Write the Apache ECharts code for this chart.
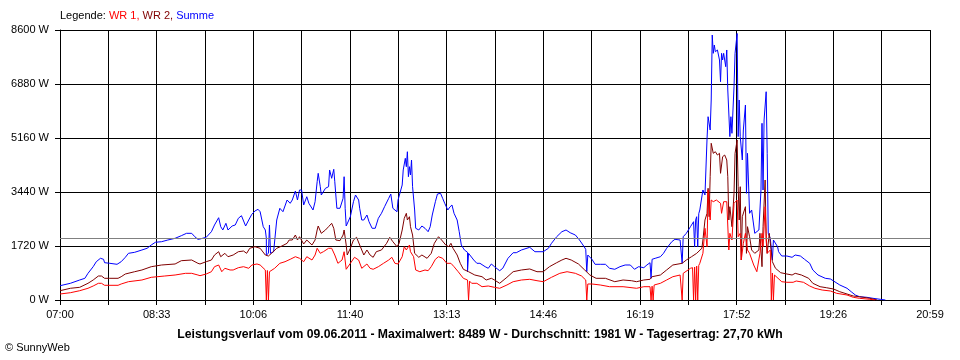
<!DOCTYPE html>
<html>
<head>
<meta charset="utf-8">
<script src="https://cdn.jsdelivr.net/npm/echarts@6/dist/echarts.min.js"></script>
<style>html,body{margin:0;padding:0;background:#fff}#c{width:960px;height:360px}</style>
</head>
<body>
<div id="c"></div>
<script>
// ---- data (time, watts) ----
const xTickLabels = ['07:00','08:33','10:06','11:40','13:13','14:46','16:19','17:52','19:26','20:59'];
const axisStart = '07:00';
const axisEnd = '20:59';
const yMax = 8600;
const yStep = 1720;
const averageW = 1981;
const captionText = 'Leistungsverlauf vom 09.06.2011 - Maximalwert: 8489 W - Durchschnitt: 1981 W - Tagesertrag: 27,70 kWh';

const summe = [['07:00',455],['07:10',532],['07:19',637],['07:24',691],['07:27',850],['07:32',1061],['07:35',1220],['07:39',1328],['07:42',1296],['07:43',1188],['07:48',1169],['07:55',1137],['07:59',1220],['08:03',1360],['08:06',1487],['08:12',1519],['08:19',1593],['08:24',1647],['08:28',1752],['08:32',1838],['08:38',1857],['08:44',1911],['08:51',1965],['08:57',2048],['09:02',2124],['09:07',2124],['09:10',2016],['09:13',1933],['09:15',1943],['09:21',1997],['09:26',2175],['09:29',2389],['09:33',2621],['09:35',2335],['09:37',2230],['09:40',2443],['09:42',2230],['09:46',2357],['09:49',2389],['09:52',2602],['09:55',2685],['09:59',2357],['10:02',2548],['10:05',2730],['10:08',2835],['10:11',2889],['10:13',2812],['10:16',2335],['10:18',2230],['10:19',1965],['10:19',1433],['10:21',1487],['10:22',2389],['10:23',1487],['10:26',1538],['10:29',2548],['10:32',2921],['10:35',2812],['10:39',3185],['10:42',3080],['10:44',3185],['10:47',3472],['10:49',3185],['10:51',3504],['10:53',3504],['10:55',3026],['10:58',3290],['11:00',3080],['11:04',2867],['11:06',3131],['11:08',3768],['11:09',4035],['11:11',3609],['11:12',3344],['11:16',3558],['11:19',3609],['11:20',4141],['11:22',3876],['11:24',4163],['11:25',3768],['11:27',2921],['11:30',2921],['11:33',3239],['11:34',3927],['11:35',2921],['11:36',2357],['11:40',2653],['11:43',3131],['11:45',3344],['11:48',3185],['11:49',2921],['11:51',2548],['11:53',2548],['11:56',2707],['11:58',2494],['12:01',2284],['12:04',2284],['12:07',2602],['12:10',2761],['12:13',2972],['12:17',3239],['12:19',3376],['12:21',2921],['12:25',2812],['12:26',3185],['12:30',3663],['12:31',4141],['12:33',4513],['12:34',4246],['12:35',4723],['12:36',3927],['12:37',4246],['12:38',3981],['12:39',4459],['12:40',3609],['12:42',2867],['12:43',2284],['12:46',2230],['12:49',2357],['12:52',2284],['12:55',2175],['12:57',2335],['12:59',2707],['13:02',3131],['13:04',3376],['13:07',3398],['13:09',3239],['13:11',3080],['13:14',2867],['13:16',2962],['13:18',3026],['13:20',2761],['13:23',2548],['13:25',2175],['13:27',1752],['13:30',1593],['13:33',1519],['13:33',901],['13:34',1487],['13:39',1274],['13:42',1169],['13:45',1169],['13:50',1061],['13:53',1010],['13:56',1147],['13:59',1061],['14:04',933],['14:07',1010],['14:12',1328],['14:17',1506],['14:20',1506],['14:25',1593],['14:33',1678],['14:38',1538],['14:46',1538],['14:51',1647],['14:54',1806],['14:59',2016],['15:04',2175],['15:08',2230],['15:12',2143],['15:17',2070],['15:21',1911],['15:25',1720],['15:27',1615],['15:28',901],['15:29',1433],['15:33',1296],['15:36',1137],['15:41',1137],['15:46',1137],['15:50',1010],['15:55',978],['16:00',1061],['16:05',1115],['16:10',1115],['16:14',978],['16:18',1061],['16:23',1029],['16:26',1115],['16:29',1188],['16:30',691],['16:31',1296],['16:34',1328],['16:39',1379],['16:42',1487],['16:45',1647],['16:50',1857],['16:53',1933],['16:58',1911],['17:00',1169],['17:01',2016],['17:04',2124],['17:08',2335],['17:11',2494],['17:12',1698],['17:13',2550],['17:14',2653],['17:15',1698],['17:16',2750],['17:17',2867],['17:20',3504],['17:22',3344],['17:24',5150],['17:25',5838],['17:27',5415],['17:28',6370],['17:29',8440],['17:30',7857],['17:31',8122],['17:32',7908],['17:34',7963],['17:36',7644],['17:37',6953],['17:38',7857],['17:39',7644],['17:40',7857],['17:42',7431],['17:43',7963],['17:44',6689],['17:46',5204],['17:47',5838],['17:48',5309],['17:50',6794],['17:51',7857],['17:53',8489],['17:54',5204],['17:55',6370],['17:56',5204],['17:58',4459],['17:59',5415],['18:01',6211],['18:02',3398],['18:03',4672],['18:05',2761],['18:07',2867],['18:10',2124],['18:14',2230],['18:16',3504],['18:17',5628],['18:18',3504],['18:19',5733],['18:21',6634],['18:22',4672],['18:23',2124],['18:25',1965],['18:27',1274],['18:28',1911],['18:32',1698],['18:33',1538],['18:36',1401],['18:41',1401],['18:46',1360],['18:49',1433],['18:54',1401],['18:58',1296],['19:03',1169],['19:06',956],['19:11',796],['19:18',691],['19:23',669],['19:26',605],['19:32',478],['19:39',373],['19:43',264],['19:47',159],['19:51',105],['19:58',86],['20:04',54],['20:11',22],['20:16',0]];

const wr2 = [['07:00',296],['07:10',373],['07:19',404],['07:27',532],['07:32',637],['07:37',764],['07:40',764],['07:43',691],['07:48',691],['07:56',691],['07:59',742],['08:03',828],['08:12',901],['08:19',956],['08:28',1061],['08:38',1115],['08:51',1147],['08:57',1252],['09:07',1274],['09:13',1169],['09:15',1147],['09:21',1220],['09:26',1274],['09:29',1433],['09:33',1538],['09:35',1379],['09:39',1487],['09:42',1379],['09:47',1433],['09:52',1538],['09:57',1560],['10:00',1487],['10:03',1647],['10:08',1698],['10:13',1647],['10:18',1433],['10:21',1401],['10:24',1487],['10:29',1647],['10:34',1720],['10:39',1806],['10:41',1911],['10:44',1911],['10:47',2070],['10:49',1911],['10:51',2016],['10:55',1784],['10:58',1911],['11:03',1752],['11:06',1911],['11:08',2230],['11:09',2357],['11:12',2124],['11:16',2230],['11:19',2335],['11:22',2443],['11:24',2284],['11:26',1911],['11:30',1890],['11:33',2070],['11:34',2230],['11:36',1752],['11:37',1433],['11:40',1647],['11:43',1911],['11:46',1997],['11:49',1752],['11:53',1433],['11:56',1593],['11:59',1433],['12:02',1360],['12:05',1538],['12:10',1593],['12:15',1806],['12:18',1997],['12:21',1857],['12:25',1698],['12:27',1806],['12:30',2230],['12:32',2602],['12:34',2761],['12:35',2548],['12:37',2653],['12:38',2335],['12:40',2070],['12:42',1487],['12:46',1360],['12:49',1433],['12:54',1328],['12:58',1487],['13:01',1806],['13:05',2016],['13:08',1911],['13:12',1752],['13:15',1698],['13:17',1806],['13:19',1647],['13:23',1433],['13:26',1169],['13:29',978],['13:34',901],['13:40',796],['13:47',742],['13:51',637],['13:56',691],['13:59',637],['14:04',532],['14:11',723],['14:17',901],['14:25',956],['14:33',988],['14:40',901],['14:46',901],['14:52',1061],['14:59',1188],['15:04',1274],['15:08',1328],['15:13',1274],['15:20',1147],['15:26',956],['15:31',796],['15:37',691],['15:46',691],['15:55',583],['16:03',637],['16:11',615],['16:16',583],['16:23',637],['16:29',659],['16:31',742],['16:39',796],['16:45',956],['16:51',1115],['17:00',1169],['17:04',1274],['17:09',1379],['17:14',1487],['17:19',1647],['17:20',1911],['17:22',2548],['17:24',2761],['17:25',3558],['17:26',2653],['17:27',3927],['17:28',4991],['17:30',4672],['17:32',4723],['17:34',4618],['17:36',4672],['17:37',4035],['17:39',4564],['17:41',4618],['17:43',4459],['17:44',3927],['17:45',2548],['17:46',2972],['17:48',2335],['17:50',3398],['17:51',4672],['17:53',5096],['17:54',3609],['17:55',2548],['17:56',3609],['17:57',1274],['17:58',2653],['18:01',2972],['18:02',1487],['18:03',2335],['18:05',2016],['18:07',1593],['18:10',1487],['18:14',1593],['18:15',2124],['18:17',1061],['18:18',2335],['18:20',3822],['18:21',1911],['18:22',1487],['18:24',2124],['18:27',1220],['18:30',1010],['18:35',869],['18:41',828],['18:46',796],['18:49',850],['18:55',796],['19:02',691],['19:06',532],['19:13',424],['19:19',392],['19:26',350],['19:32',264],['19:39',191],['19:45',127],['19:51',105],['20:01',54],['20:08',0]];

const wr1 = [['07:00',191],['07:10',232],['07:19',296],['07:27',373],['07:32',446],['07:37',532],['07:40',532],['07:43',468],['07:56',468],['07:59',510],['08:06',583],['08:19',637],['08:28',723],['08:41',764],['08:51',796],['09:01',850],['09:07',850],['09:13',796],['09:15',774],['09:21',828],['09:26',901],['09:29',1061],['09:33',1115],['09:36',901],['09:39',1010],['09:44',956],['09:47',956],['09:52',1029],['09:57',1061],['10:02',1010],['10:05',1115],['10:10',1147],['10:13',1115],['10:18',956],['10:19',0],['10:20',940],['10:21',0],['10:22',901],['10:27',1010],['10:32',1169],['10:37',1220],['10:42',1296],['10:47',1379],['10:51',1328],['10:55',1220],['10:58',1379],['11:03',1274],['11:06',1433],['11:08',1647],['11:11',1487],['11:14',1538],['11:19',1647],['11:22',1647],['11:25',1433],['11:28',1169],['11:32',1274],['11:34',1538],['11:36',978],['11:40',1169],['11:44',1360],['11:48',1274],['11:51',1010],['11:56',1147],['11:59',1010],['12:02',978],['12:07',1061],['12:12',1169],['12:17',1274],['12:20',1360],['12:23',1169],['12:26',1147],['12:30',1379],['12:32',1698],['12:34',1593],['12:37',1752],['12:38',1538],['12:41',1379],['12:43',956],['12:47',901],['12:52',956],['12:55',933],['12:58',1061],['13:02',1296],['13:05',1379],['13:09',1328],['13:13',1169],['13:17',1169],['13:20',1061],['13:24',901],['13:29',691],['13:33',637],['13:34',0],['13:35',600],['13:37',532],['13:42',532],['13:47',424],['13:53',446],['13:59',404],['14:04',373],['14:11',478],['14:17',583],['14:25',637],['14:33',659],['14:40',615],['14:46',583],['14:54',723],['15:02',850],['15:09',901],['15:17',850],['15:23',764],['15:27',637],['15:28',0],['15:29',510],['15:33',510],['15:41',478],['15:50',424],['16:03',424],['16:16',373],['16:23',424],['16:29',424],['16:30',0],['16:31',440],['16:32',0],['16:33',478],['16:39',532],['16:45',637],['16:51',742],['16:58',796],['17:00',0],['17:01',850],['17:08',1010],['17:10',1030],['17:11',0],['17:12',1050],['17:13',0],['17:14',1080],['17:15',0],['17:16',1100],['17:17',1169],['17:20',1487],['17:22',2284],['17:24',1698],['17:25',3504],['17:27',2548],['17:28',3185],['17:30',3131],['17:33',3185],['17:37',3080],['17:38',2761],['17:40',3131],['17:43',3131],['17:45',1593],['17:46',2124],['17:48',1911],['17:50',3080],['17:53',3185],['17:54',2016],['17:56',2124],['17:57',1274],['17:59',1806],['18:01',2124],['18:03',1593],['18:05',1487],['18:09',1115],['18:12',901],['18:15',1487],['18:17',2124],['18:18',1698],['18:20',2972],['18:21',2124],['18:22',1487],['18:25',1593],['18:26',0],['18:27',860],['18:28',0],['18:29',796],['18:36',583],['18:41',564],['18:47',564],['18:50',605],['18:57',564],['19:03',446],['19:08',373],['19:15',318],['19:23',287],['19:29',213],['19:39',159],['19:45',86],['19:51',54],['20:01',22],['20:06',0]];

// ---- build ----
function toMin(t){ const p=t.split(':'); return (+p[0])*60 + (+p[1]); }
const t0 = toMin(axisStart), span = toMin(axisEnd) - t0;
const halfSteps = (xTickLabels.length - 1) * 2; // grid lines every half label step
// axis unit: one grid step (span / halfSteps minutes)
function conv(arr){ return arr.map(d => [ (toMin(d[0]) - t0) * halfSteps / span, d[1] ]); }

const FONT = "'Liberation Sans', Arial, sans-serif";
const rs = c => ({ color: c, fontSize: 11, fontWeight: 'normal', fontFamily: FONT });
const chart = echarts.init(document.getElementById('c'), null, {renderer:'canvas'});
chart.setOption({
  animation: false,
  backgroundColor: '#ffffff',
  textStyle: { fontFamily: FONT },
  title: [
    { text: '{k|Legende: }{a|WR 1, }{b|WR 2, }{c|Summe}', left: 60, top: 10, padding: 0,
      textStyle: { fontWeight: 'normal', fontSize: 11, rich: { k: rs('#000000'), a: rs('#ff0000'), b: rs('#800000'), c: rs('#0000ff') } } },
    { text: captionText, left: 'center', top: 329, padding: 0,
      textStyle: { color: '#000', fontSize: 12.2, fontWeight: 'bold', fontFamily: FONT } },
    { text: '© SunnyWeb', left: 5, top: 342, padding: 0,
      textStyle: { color: '#000', fontSize: 11, fontWeight: 'normal', fontFamily: FONT } }
  ],
  grid: { left: 60, right: 30, top: 30, bottom: 60, containLabel: false },
  xAxis: {
    type: 'value', min: 0, max: halfSteps, interval: 1,
    axisLine: { show: true, lineStyle: { color: '#000', width: 1 } },
    axisTick: { show: true, length: 5, lineStyle: { color: '#000' } },
    splitLine: { show: true, lineStyle: { color: '#000', width: 1 } },
    axisLabel: { color: '#000', fontSize: 11, fontFamily: FONT, margin: 9,
      formatter: v => { const i = Math.round(v); return i % 2 === 0 ? xTickLabels[i/2] : ''; } }
  },
  yAxis: {
    type: 'value', min: 0, max: yMax, interval: yStep,
    axisLine: { show: true, lineStyle: { color: '#000', width: 1 } },
    axisTick: { show: true, length: 5, lineStyle: { color: '#000' } },
    splitLine: { show: true, lineStyle: { color: '#000', width: 1 } },
    axisLabel: { color: '#000', fontSize: 11, fontFamily: FONT, margin: 11, formatter: v => String(Math.round(v)) + ' W' }
  },
  series: [
    { name: 'Summe', type: 'line', data: conv(summe), symbol: 'none', z: 2,
      lineStyle: { color: '#0000ff', width: 1 }, itemStyle: { color: '#0000ff' },
      markLine: { silent: true, symbol: ['none','none'], label: { show: false }, animation: false,
        lineStyle: { color: '#808080', type: 'solid', width: 1 }, data: [{ yAxis: averageW }] } },
    { name: 'WR 2', type: 'line', data: conv(wr2), symbol: 'none', z: 3,
      lineStyle: { color: '#800000', width: 1 }, itemStyle: { color: '#800000' } },
    { name: 'WR 1', type: 'line', data: conv(wr1), symbol: 'none', z: 4,
      lineStyle: { color: '#ff0000', width: 1 }, itemStyle: { color: '#ff0000' } }
  ]
});
</script>
</body>
</html>
